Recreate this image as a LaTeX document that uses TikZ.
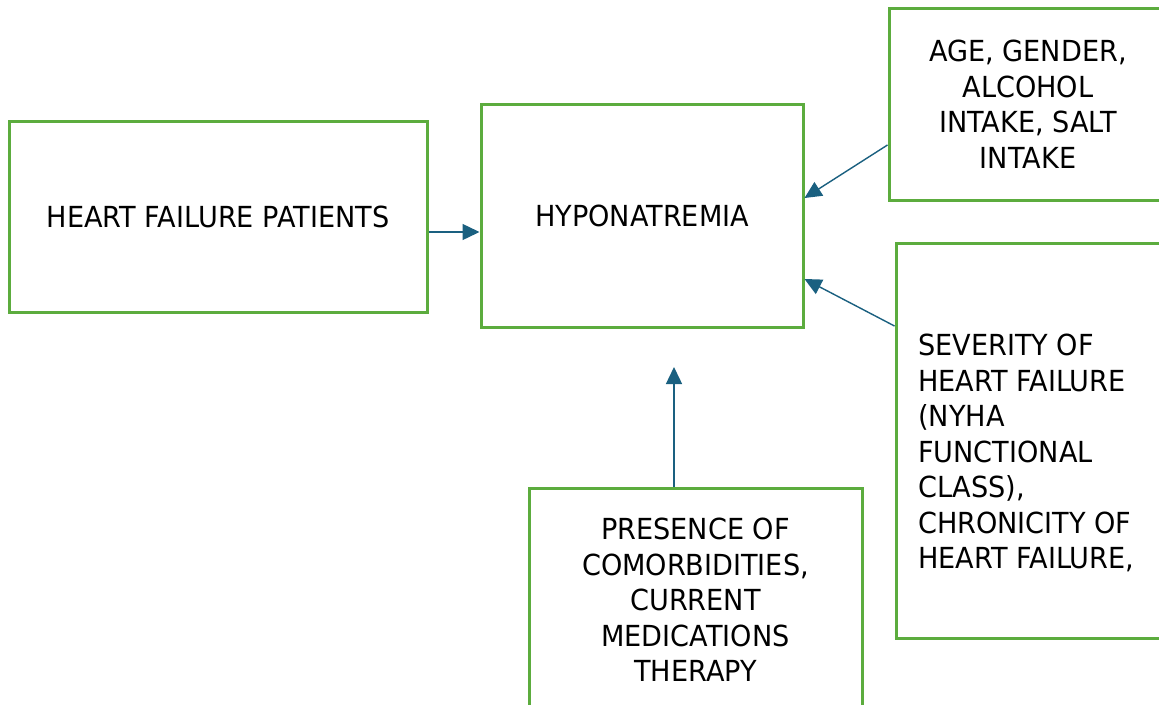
\documentclass[tikz,border=0pt]{standalone}
\usepackage{fontspec}
\setmainfont{DejaVu Sans}[FakeStretch=0.935]
\usetikzlibrary{arrows.meta,calc}
\definecolor{boxgreen}{RGB}{92,172,62}
\definecolor{arrowblue}{RGB}{26,96,128}
\begin{document}
\begin{tikzpicture}[x=1pt,y=-1pt,
  box/.style={draw=boxgreen, line width=3pt, inner sep=0pt,
    font=\fontsize{29}{35.5}\selectfont, align=center},
  plaintext/.style={inner sep=0pt, font=\fontsize{29}{35.5}\selectfont, align=left},
  conn/.style={draw=arrowblue, line width=1.4pt, -{Triangle[length=17pt,width=16pt]}}]
\useasboundingbox (0,0) rectangle (1159,704);
\clip (0,0) rectangle (1159,704);
\fill[white] (0,0) rectangle (1159,704);
\node[box, minimum width=418, minimum height=191] (hfp) at (218,216.5) {HEART FAILURE PATIENTS};
\node[box, minimum width=322, minimum height=223] (hypo) at (642,215.5) {HYPONATREMIA};
\node[box, minimum width=278, minimum height=192] (age) at (1028,104) {AGE, GENDER,\\ALCOHOL\\INTAKE, SALT\\INTAKE};
\node[box, minimum width=274, minimum height=395] (sev) at (1033,440.5) {};
\node[plaintext, anchor=north west] (sevtext) at (918,334) {SEVERITY OF\\HEART FAILURE\\(NYHA\\FUNCTIONAL\\CLASS),\\CHRONICITY OF\\HEART FAILURE,};
\node[box, minimum width=333, minimum height=224] (pres) at (695.5,600) {PRESENCE OF\\COMORBIDITIES,\\CURRENT\\MEDICATIONS\\THERAPY};
\coordinate (p4) at (674,367);
\draw[conn] (hfp.east |- 0,232) -- (hypo.west |- 0,232);
\draw[conn] (age.west |- 0,145) -- (hypo.east |- 0,198);
\draw[conn] (sev.west |- 0,326) -- (hypo.east |- 0,279);
\draw[conn] (pres.north -| p4) -- (p4);
\end{tikzpicture}
\end{document}
